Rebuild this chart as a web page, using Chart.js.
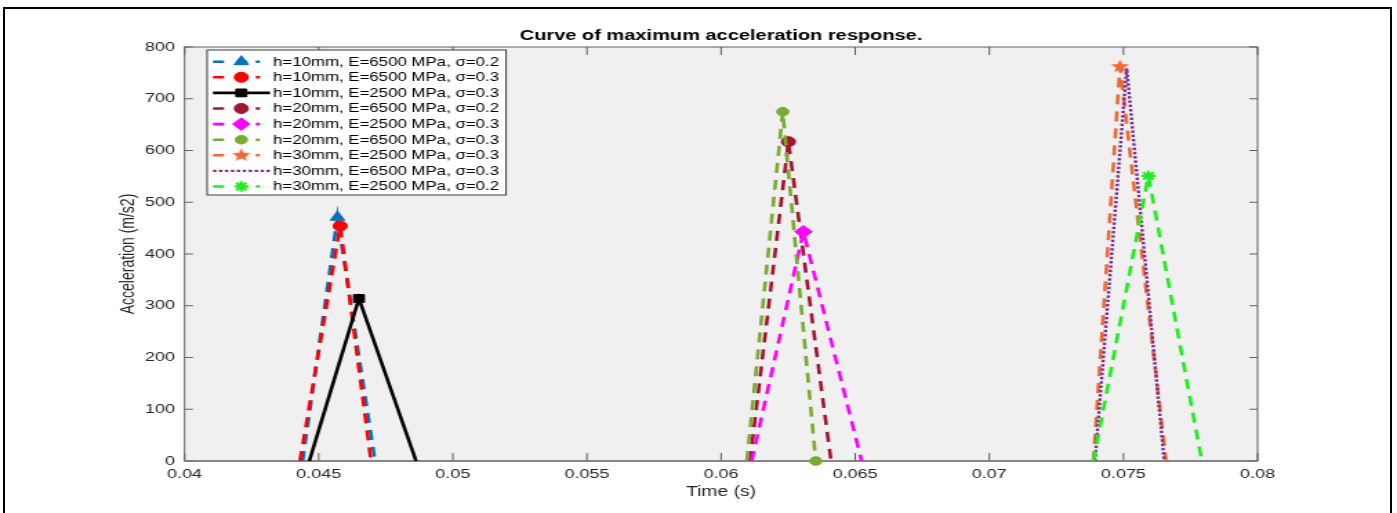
<!DOCTYPE html>
<html><head><meta charset="utf-8">
<script src="https://cdn.jsdelivr.net/npm/chart.js@4.4.1/dist/chart.umd.min.js"></script>
<style>
html,body{margin:0;padding:0;background:#fff;overflow:hidden;width:1397px;height:513px;}
#wrap{position:absolute;left:0;top:0;width:1012px;height:513px;transform:scaleX(1.38043);transform-origin:0 0;}
#frame{position:absolute;left:3px;top:7px;width:1385px;height:530px;border:2px solid #000;pointer-events:none;}
</style></head><body>
<div id="wrap"><canvas id="c" width="1012" height="513"></canvas></div>
<div id="frame"></div>
<script>
// ---- data ----
const seriesLabels = [
  'h=10mm, E=6500 MPa, σ=0.2',
  'h=10mm, E=6500 MPa, σ=0.3',
  'h=10mm, E=2500 MPa, σ=0.3',
  'h=20mm, E=6500 MPa, σ=0.2',
  'h=20mm, E=2500 MPa, σ=0.3',
  'h=20mm, E=6500 MPa, σ=0.3',
  'h=30mm, E=2500 MPa, σ=0.3',
  'h=30mm, E=6500 MPa, σ=0.3',
  'h=30mm, E=2500 MPa, σ=0.2'
];
const t1 = [0.0444, 0.0457, 0.0471];    const a1 = [0, 471, 0];
const t2 = [0.0443, 0.0458, 0.04695];   const a2 = [0, 454, 0];
const t3 = [0.04465, 0.0465, 0.04863];  const a3 = [0, 314, 0];
const t4 = [0.06108, 0.06251, 0.0641];  const a4 = [0, 617, 0];
const t5 = [0.06114, 0.06307, 0.06524]; const a5 = [0, 443, 0];
const t6 = [0.06096, 0.0623, 0.06353];  const a6 = [0, 675, 0];
const t7 = [0.07388, 0.07487, 0.07659]; const a7 = [0, 762, 0];
const t8 = [0.07394, 0.07512, 0.07652]; const a8 = [0, 759, 0];
const t9 = [0.07388, 0.07593, 0.07792]; const a9 = [0, 551, 0];
const timeSeries = [t1, t2, t3, t4, t5, t6, t7, t8, t9];
const accelSeries = [a1, a2, a3, a4, a5, a6, a7, a8, a9];
const xTickStep = 0.005;
const yTickStep = 100;

// ---- styles ----
function makePentagram(color){
  const cv = document.createElement('canvas'); cv.width = 15; cv.height = 15;
  const c = cv.getContext('2d'); c.fillStyle = color; c.beginPath();
  for (let k = 0; k < 10; k++) {
    const r = k % 2 === 0 ? 7 : 3;
    const ang = -Math.PI/2 + k*Math.PI/5;
    const px = 7.5 + r*Math.cos(ang), py = 7.5 + r*Math.sin(ang);
    k === 0 ? c.moveTo(px, py) : c.lineTo(px, py);
  }
  c.closePath(); c.fill();
  return cv;
}
const styles = [
  {color:'#0072BD', dash:[10,7], width:2.6, point:'triangle', r:6},
  {color:'#FF0000', dash:[10,7], width:2.6, point:'circle', r:5},
  {color:'#000000', dash:[], width:2.6, point:'rect', r:5.5},
  {color:'#A2142F', dash:[10,7], width:2.6, point:'circle', r:5},
  {color:'#FF00FF', dash:[10,7], width:2.6, point:'rectRot', r:6.3},
  {color:'#77AC30', dash:[10,7], width:2.6, point:'circle', r:4.3},
  {color:'#EE6A35', dash:[10,7], width:2.6, point:makePentagram('#EE6A35'), r:6},
  {color:'#7E2F8E', dash:[2.5,1.8], width:2.4, point:false, r:0},
  {color:'#1EEE1E', dash:[10,7], width:2.6, point:'star', r:5.2}
];

const datasets = seriesLabels.map((lab, i) => {
  const s = styles[i];
  const radii = accelSeries[i].map((v, j) => (j === 1 ? s.r : 0));
  if (i === 5) radii[2] = s.r;
  return {
    label: lab,
    data: timeSeries[i].map((t, j) => ({x: t, y: accelSeries[i][j]})),
    borderColor: s.color,
    backgroundColor: s.color,
    borderWidth: s.width,
    borderDash: s.dash,
    pointStyle: s.point,
    pointRadius: radii,
    pointBackgroundColor: s.color,
    pointBorderColor: s.color,
    pointBorderWidth: s.point === 'star' ? 2.2 : 1,
    tension: 0,
    fill: false,
    clip: false,
    order: 9 - i
  };
});

const axesPlugin = {
  id: 'matlabAxes',
  beforeDraw(chart){
    const {ctx, chartArea: a} = chart;
    ctx.save();
    ctx.fillStyle = '#ffffff'; ctx.fillRect(0, 0, chart.width, chart.height);
    ctx.fillStyle = '#f0f0f0'; ctx.fillRect(a.left, a.top, a.right - a.left, a.bottom - a.top);
    ctx.restore();
  },
  beforeDatasetsDraw(chart){
    const {ctx, chartArea: a, scales} = chart;
    const xs = scales.x, ys = scales.y;
    ctx.save();
    ctx.strokeStyle = '#5e5e5e'; ctx.lineWidth = 1;
    ctx.strokeRect(a.left, a.top, a.right - a.left, a.bottom - a.top);
    ctx.beginPath();
    xs.ticks.forEach(t => {
      const px = xs.getPixelForValue(t.value);
      ctx.moveTo(px, a.bottom); ctx.lineTo(px, a.bottom - 8);
      ctx.moveTo(px, a.top); ctx.lineTo(px, a.top + 8);
    });
    ys.ticks.forEach(t => {
      const py = ys.getPixelForValue(t.value);
      ctx.moveTo(a.left, py); ctx.lineTo(a.left + 6, py);
      ctx.moveTo(a.right, py); ctx.lineTo(a.right - 6, py);
    });
    ctx.stroke();
    ctx.strokeStyle = '#7a7a7a'; ctx.lineWidth = 1.6;
    ctx.beginPath(); ctx.moveTo(a.left, a.bottom); ctx.lineTo(a.right, a.bottom); ctx.stroke();
    ctx.restore();
  },
  afterDraw(chart){
    const ctx = chart.ctx;
    const L = 150, T = 50, W = 216.6, H = 145;
    ctx.save();
    ctx.fillStyle = '#ffffff'; ctx.fillRect(L, T, W, H);
    ctx.strokeStyle = '#3a3a3a'; ctx.lineWidth = 1; ctx.strokeRect(L, T, W, H);
    chart.data.datasets.forEach((ds, i) => {
      const s = styles[i];
      const cy = 61.7 + i * 15.6;
      ctx.strokeStyle = s.color; ctx.lineWidth = s.width;
      ctx.setLineDash(s.dash.length ? (s.dash[0] > 5 ? [8, 9, 8, 6, 3, 100] : s.dash) : []);
      ctx.beginPath(); ctx.moveTo(154.3, cy); ctx.lineTo(195.6, cy); ctx.stroke();
      ctx.setLineDash([]);
      if (s.point) {
        ctx.fillStyle = s.color; ctx.strokeStyle = s.color;
        ctx.lineWidth = s.point === 'star' ? 2.2 : 1;
        if (Chart.helpers && Chart.helpers.drawPoint) {
          Chart.helpers.drawPoint(ctx, {pointStyle: s.point, radius: s.r, rotation: 0, borderWidth: ctx.lineWidth}, 174.8, cy);
        }
      }
      ctx.fillStyle = '#000000';
      ctx.font = '12.2px "Liberation Sans", Arial, sans-serif';
      ctx.textBaseline = 'middle'; ctx.textAlign = 'left';
      ctx.fillText(ds.label, 197.8, cy + 0.5);
    });
    ctx.restore();
  }
};

const tickFont = {family: '"Liberation Sans", Arial, sans-serif', size: 13};
const axisTitleFont = {family: '"Liberation Sans", Arial, sans-serif', size: 14};
new Chart(document.getElementById('c'), {
  type: 'line',
  data: {datasets},
  options: {
    responsive: false,
    animation: false,
    events: [],
    layout: {padding: {left: 80.4, right: 101, top: 0, bottom: 12}},
    plugins: {
      legend: {display: false},
      tooltip: {enabled: false},
      title: {
        display: true,
        fullSize: false,
        text: 'Curve of maximum acceleration response.',
        color: '#000000',
        font: {family: '"Liberation Sans", Arial, sans-serif', size: 14.5, weight: 'bold', lineHeight: 1.2},
        padding: {top: 27, bottom: 2.6}
      }
    },
    scales: {
      x: {
        type: 'linear', min: 0.04, max: 0.08,
        grid: {display: false, drawTicks: false},
        border: {display: false},
        ticks: {stepSize: xTickStep, color: '#262626', font: tickFont, padding: 6, maxRotation: 0,
          callback: v => String(Number(Number(v).toFixed(4)))},
        title: {display: true, text: 'Time (s)', color: '#262626', font: axisTitleFont, padding: {top: 0, bottom: 0}},
        afterFit(scale){ scale.height = 40; }
      },
      y: {
        type: 'linear', min: 0, max: 800,
        grid: {display: false, drawTicks: false},
        border: {display: false},
        ticks: {stepSize: yTickStep, color: '#262626', font: tickFont, padding: 7},
        title: {display: true, text: 'Acceleration (m/s2)', color: '#262626', font: axisTitleFont, padding: {top: 4, bottom: 0}},
        afterFit(scale){ scale.width = 53.3; }
      }
    }
  },
  plugins: [axesPlugin]
});
</script>
</body></html>
